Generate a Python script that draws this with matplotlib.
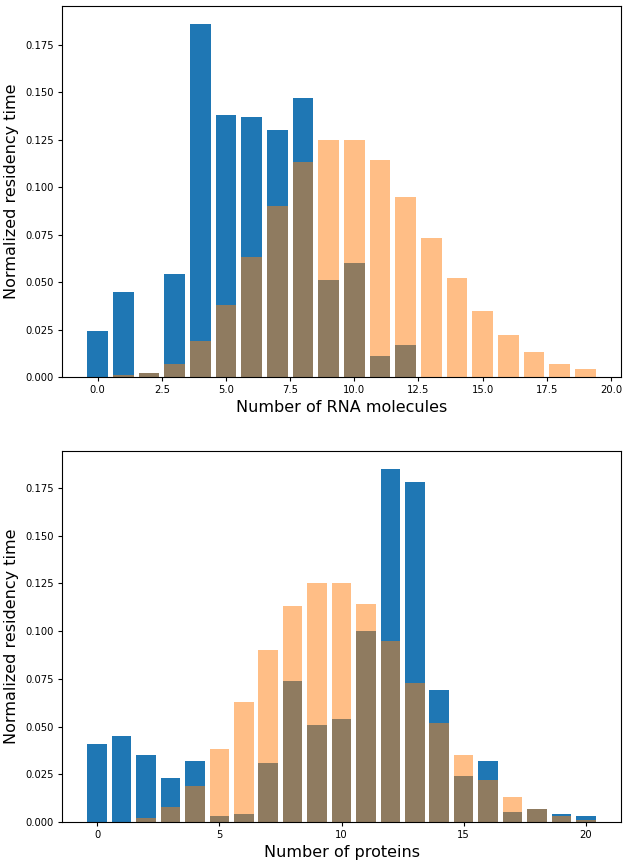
import matplotlib
matplotlib.use("Agg")
import matplotlib.pyplot as plt

rna_x = list(range(20))
rna_sim = [0.024,0.045,0.002,0.054,0.186,0.138,0.137,0.130,0.147,0.051,0.060,0.011,0.017,0,0,0,0,0,0,0]
rna_ref = [0.0,0.001,0.002,0.007,0.019,0.038,0.063,0.090,0.113,0.125,0.125,0.114,0.095,0.073,0.052,0.035,0.022,0.013,0.007,0.004]

prot_x = list(range(21))
prot_sim = [0.041,0.045,0.035,0.023,0.032,0.003,0.004,0.031,0.074,0.051,0.054,0.100,0.185,0.178,0.069,0.024,0.032,0.005,0.007,0.004,0.003]
prot_ref = [0.0,0.0,0.002,0.008,0.019,0.038,0.063,0.090,0.113,0.125,0.125,0.114,0.095,0.073,0.052,0.035,0.022,0.013,0.007,0.003,0.001]

fig = plt.figure(figsize=(6.28, 8.65), dpi=100)
ax1 = fig.add_axes([62/628, 1-377/865, 559/628, 371/865])
ax2 = fig.add_axes([62/628, 1-822/865, 559/628, 371/865])

ax1.bar(rna_x, rna_sim, color='#1f77b4')
ax1.bar(rna_x, rna_ref, color='#ff7f0e', alpha=0.5)
ax1.set_xlabel("Number of RNA molecules", fontsize=11.5, labelpad=3)
ax1.set_ylabel("Normalized residency time", fontsize=11.5)

ax2.bar(prot_x, prot_sim, color='#1f77b4')
ax2.bar(prot_x, prot_ref, color='#ff7f0e', alpha=0.5)
ax2.set_xlabel("Number of proteins", fontsize=11.5, labelpad=3)
ax2.set_ylabel("Normalized residency time", fontsize=11.5)

for ax in (ax1, ax2):
    ax.tick_params(labelsize=7.2, length=3, pad=3)

fig.savefig("out.png", dpi=100)
